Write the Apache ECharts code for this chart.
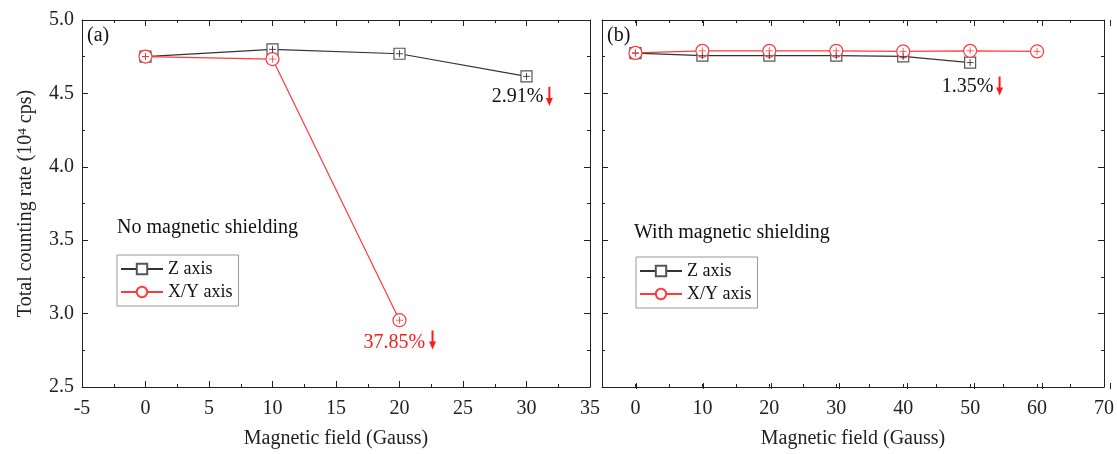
<!DOCTYPE html>
<html>
<head>
<meta charset="utf-8">
<script src="https://cdn.jsdelivr.net/npm/echarts@6/dist/echarts.min.js"></script>
<style>
html, body { margin: 0; padding: 0; background: #fff; }
#chart { width: 1117px; height: 454px; }
</style>
</head>
<body>
<div id="chart"></div>
<script>
// (a) no magnetic shielding
const fieldA_Z = [0, 10, 20, 30];
const rateA_Z = [4.751, 4.800, 4.770, 4.616];
const fieldA_XY = [0, 10, 20];
const rateA_XY = [4.751, 4.734, 2.955];

// (b) with magnetic shielding
const fieldB_Z = [0, 10, 20, 30, 40, 50];
const rateB_Z = [4.774, 4.757, 4.757, 4.757, 4.752, 4.710];
const fieldB_XY = [0, 10, 20, 30, 40, 50, 60];
const rateB_XY = [4.776, 4.790, 4.790, 4.790, 4.786, 4.790, 4.786];

const legendNames = ['Z axis', 'X/Y axis'];
const rightMajorTicks = [0, 10, 20, 30, 40, 50, 60, 70];

// drop notes: series to place against, text, text anchor, arrow x / top / bottom (data coords)
const dropNotes = [
  { series: 0, text: '2.91%', color: '#111', at: [29.3, 4.478], arrow: [31.8, 4.545, 4.415] },
  { series: 1, text: '37.85%', color: '#ff1a1a', at: [19.6, 2.800], arrow: [22.6, 2.885, 2.755] },
  { series: 4, text: '1.35%', color: '#111', at: [49.6, 4.548], arrow: [54.4, 4.615, 4.485] }
];

const FONT = '"Liberation Serif", "Times New Roman", serif';
const INK = '#222';
const RED = '#ff3a3a';

const pairs = (xs, ys) => xs.map((x, i) => [x, ys[i]]);

function axis(extra) {
  return Object.assign({
    type: 'value',
    axisLine: { show: true, onZero: false, lineStyle: { color: INK, width: 1 } },
    axisTick: { show: true, inside: true, length: 6, lineStyle: { color: INK } },
    minorTick: { show: true, splitNumber: 2, length: 3, lineStyle: { color: INK } },
    splitLine: { show: false },
    axisLabel: { show: false, fontFamily: FONT, fontSize: 20, color: INK }
  }, extra);
}

const xLabel = { show: true, fontFamily: FONT, fontSize: 20, color: INK, margin: 12 };
const xName = {
  name: 'Magnetic field (Gauss)', nameLocation: 'middle', nameGap: 42,
  nameTextStyle: { fontFamily: FONT, fontSize: 20, color: INK }
};

function zLine(name, data, xi, yi) {
  return {
    name: name, type: 'line', data: data, xAxisIndex: xi, yAxisIndex: yi,
    symbol: 'rect', symbolSize: 11,
    itemStyle: { color: '#fff', borderColor: '#555', borderWidth: 1.2 },
    lineStyle: { color: '#333', width: 1.2 },
    animation: false, z: 3
  };
}
function xyLine(name, data, xi, yi) {
  return {
    name: name, type: 'line', data: data, xAxisIndex: xi, yAxisIndex: yi,
    symbol: 'circle', symbolSize: 13,
    itemStyle: { color: '#fff', borderColor: RED, borderWidth: 1.2 },
    lineStyle: { color: RED, width: 1.2 },
    animation: false, z: 4
  };
}
function plus(name, data, xi, yi, color, z) {
  return {
    name: name, type: 'scatter', data: data, xAxisIndex: xi, yAxisIndex: yi,
    symbol: 'path://M5,0L5,10M0,5L10,5', symbolSize: 7,
    itemStyle: { color: 'rgba(0,0,0,0)', borderColor: color, borderWidth: 1 },
    silent: true, animation: false, z: z
  };
}

const legendBase = {
  data: legendNames, orient: 'vertical', itemWidth: 42, itemHeight: 13, itemGap: 5,
  padding: [5, 6, 5, 3], borderColor: '#999', borderWidth: 1, backgroundColor: '#fff',
  textStyle: { fontFamily: FONT, fontSize: 18, color: '#111' }, selectedMode: false
};

const grids = [
  { left: 82, top: 20, width: 508, height: 369 },
  { left: 602, top: 20, width: 508, height: 369 },
  { left: 602, top: 20, width: 508, height: 369 }
];

const option = {
  backgroundColor: '#fff',
  animation: false,
  grid: grids,
  legend: [
    Object.assign({ left: 117, top: 255 }, legendBase),
    Object.assign({ left: 636, top: 257 }, legendBase)
  ],
  xAxis: [
    axis(Object.assign({ gridIndex: 0, position: 'bottom', min: -5, max: 35, interval: 5, axisLabel: xLabel }, xName)),
    axis({ gridIndex: 0, position: 'top', min: -5, max: 35, interval: 5 }),
    axis(Object.assign({
      gridIndex: 1, position: 'bottom', min: -5, max: 70, interval: 5,
      axisTick: { show: true, inside: true, length: 3, lineStyle: { color: INK } },
      minorTick: { show: false },
      axisLabel: Object.assign({}, xLabel, { formatter: v => (v % 10 === 0 ? String(v) : '') })
    }, xName)),
    axis({
      gridIndex: 1, position: 'top', min: -5, max: 70, interval: 5,
      axisTick: { show: true, inside: true, length: 3, lineStyle: { color: INK } },
      minorTick: { show: false }
    }),
    axis({
      gridIndex: 2, position: 'bottom', min: -5, max: 70, interval: 5,
      axisLine: { show: false },
      axisTick: { show: true, inside: true, length: 6, customValues: rightMajorTicks, lineStyle: { color: INK } },
      minorTick: { show: false }
    }),
    axis({
      gridIndex: 2, position: 'top', min: -5, max: 70, interval: 5,
      axisLine: { show: false },
      axisTick: { show: true, inside: true, length: 6, customValues: rightMajorTicks, lineStyle: { color: INK } },
      minorTick: { show: false }
    })
  ],
  yAxis: [
    axis({
      gridIndex: 0, position: 'left', min: 2.5, max: 5.0, interval: 0.5,
      axisLabel: { show: true, fontFamily: FONT, fontSize: 20, color: INK, margin: 8, formatter: v => v.toFixed(1) },
      name: 'Total counting rate (10{sup|4} cps)', nameLocation: 'middle', nameGap: 46,
      nameTextStyle: {
        fontFamily: FONT, fontSize: 20, color: INK,
        rich: { sup: { fontFamily: FONT, fontSize: 13, color: INK, verticalAlign: 'top', lineHeight: 12 } }
      }
    }),
    axis({ gridIndex: 0, position: 'right', min: 2.5, max: 5.0, interval: 0.5 }),
    axis({ gridIndex: 1, position: 'left', min: 2.5, max: 5.0, interval: 0.5 }),
    axis({ gridIndex: 1, position: 'right', min: 2.5, max: 5.0, interval: 0.5 }),
    axis({ gridIndex: 2, position: 'left', min: 2.5, max: 5.0, interval: 0.5, show: false })
  ],
  series: [
    zLine('Z axis', pairs(fieldA_Z, rateA_Z), 0, 0),
    xyLine('X/Y axis', pairs(fieldA_XY, rateA_XY), 0, 0),
    plus('plusAZ', pairs(fieldA_Z, rateA_Z), 0, 0, '#222', 5),
    plus('plusAXY', pairs(fieldA_XY, rateA_XY), 0, 0, RED, 6),
    zLine('Z axis', pairs(fieldB_Z, rateB_Z), 2, 2),
    xyLine('X/Y axis', pairs(fieldB_XY, rateB_XY), 2, 2),
    plus('plusBZ', pairs(fieldB_Z, rateB_Z), 2, 2, '#222', 5),
    plus('plusBXY', pairs(fieldB_XY, rateB_XY), 2, 2, RED, 6)
  ]
};

const chart = echarts.init(document.getElementById('chart'));
chart.setOption(option);

const textStyle = (text, x, y, color, size, align) => ({
  type: 'text', x: x, y: y, silent: true, z: 20,
  style: { text: text, fill: color, font: size + 'px ' + FONT, align: align || 'left', verticalAlign: 'middle' }
});

const graphics = [
  textStyle('(a)', 87, 36, '#111', 20),
  textStyle('(b)', 607, 36, '#111', 20),
  textStyle('No magnetic shielding', 117, 228, '#111', 20),
  textStyle('With magnetic shielding', 634, 233, '#111', 20)
];

dropNotes.forEach(n => {
  const p = chart.convertToPixel({ seriesIndex: n.series }, n.at);
  graphics.push(textStyle(n.text, p[0], p[1], n.color, 20, 'center'));
  const top = chart.convertToPixel({ seriesIndex: n.series }, [n.arrow[0], n.arrow[1]]);
  const bot = chart.convertToPixel({ seriesIndex: n.series }, [n.arrow[0], n.arrow[2]]);
  graphics.push({
    type: 'line', silent: true, z: 20,
    shape: { x1: top[0], y1: top[1], x2: bot[0], y2: bot[1] - 7 },
    style: { stroke: '#ff1a1a', lineWidth: 2 }
  });
  graphics.push({
    type: 'polygon', silent: true, z: 20,
    shape: { points: [[bot[0] - 3.5, bot[1] - 8], [bot[0] + 3.5, bot[1] - 8], [bot[0], bot[1]]] },
    style: { fill: '#ff1a1a' }
  });
});

chart.setOption({ graphic: graphics });
</script>
</body>
</html>
